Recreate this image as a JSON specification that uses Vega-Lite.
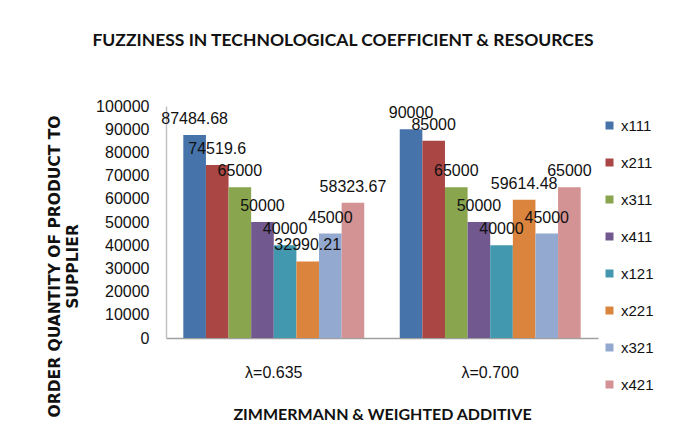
{
  "$schema": "https://vega.github.io/schema/vega-lite/v6.json",
  "autosize": {"type": "none"},
  "width": 432,
  "height": 232,
  "padding": {"left": 166, "top": 106, "right": 75, "bottom": 107},
  "background": "white",
  "title": {
    "text": "FUZZINESS IN TECHNOLOGICAL COEFFICIENT & RESOURCES",
    "font": "Lato",
    "fontSize": 17.5,
    "fontWeight": "bold",
    "color": "#111111",
    "anchor": "middle",
    "dx": -39,
    "offset": 49
  },
  "data": {
    "values": [
      {"lambda": "λ=0.635", "series": "x111", "value": 87484.68},
      {"lambda": "λ=0.635", "series": "x211", "value": 74519.6},
      {"lambda": "λ=0.635", "series": "x311", "value": 65000},
      {"lambda": "λ=0.635", "series": "x411", "value": 50000},
      {"lambda": "λ=0.635", "series": "x121", "value": 40000},
      {"lambda": "λ=0.635", "series": "x221", "value": 32990.21},
      {"lambda": "λ=0.635", "series": "x321", "value": 45000},
      {"lambda": "λ=0.635", "series": "x421", "value": 58323.67},
      {"lambda": "λ=0.700", "series": "x111", "value": 90000},
      {"lambda": "λ=0.700", "series": "x211", "value": 85000},
      {"lambda": "λ=0.700", "series": "x311", "value": 65000},
      {"lambda": "λ=0.700", "series": "x411", "value": 50000},
      {"lambda": "λ=0.700", "series": "x121", "value": 40000},
      {"lambda": "λ=0.700", "series": "x221", "value": 59614.48},
      {"lambda": "λ=0.700", "series": "x321", "value": 45000},
      {"lambda": "λ=0.700", "series": "x421", "value": 65000}
    ]
  },
  "encoding": {
    "x": {
      "field": "lambda",
      "type": "nominal",
      "scale": {"paddingInner": 0.164, "paddingOuter": 0.08},
      "axis": {
        "title": "ZIMMERMANN & WEIGHTED ADDITIVE",
        "titleFont": "Lato",
        "titleFontSize": 16,
        "titleFontWeight": "bold",
        "titleColor": "#111111",
        "titlePadding": 26,
        "labelAngle": 0,
        "labelFont": "Liberation Sans",
        "labelFontSize": 16,
        "labelColor": "#111111",
        "labelPadding": 26,
        "ticks": false,
        "grid": false,
        "domainColor": "#a0a0a0",
        "domainWidth": 1.5
      }
    },
    "xOffset": {
      "field": "series",
      "type": "nominal",
      "sort": ["x111", "x211", "x311", "x411", "x121", "x221", "x321", "x421"],
      "scale": {"paddingInner": 0, "paddingOuter": 0}
    },
    "y": {
      "field": "value",
      "type": "quantitative",
      "scale": {"domain": [0, 100000]},
      "axis": {
        "title": ["ORDER QUANTITY OF PRODUCT TO", "SUPPLIER"],
        "titleFont": "DejaVu Sans",
        "titleFontSize": 15.5,
        "titleFontWeight": "bold",
        "titleColor": "#111111",
        "titleX": -107,
        "titleY": 160,
        "titleBaseline": "alphabetic",
        "titleLineHeight": 18,
        "values": [0, 10000, 20000, 30000, 40000, 50000, 60000, 70000, 80000, 90000, 100000],
        "format": "d",
        "labelFont": "Liberation Sans",
        "labelFontSize": 16,
        "labelColor": "#111111",
        "labelPadding": 17,
        "ticks": false,
        "grid": false,
        "domainColor": "#c0c0c0",
        "domainWidth": 1.5
      }
    }
  },
  "layer": [
    {
      "mark": {"type": "bar"},
      "encoding": {
        "color": {
          "field": "series",
          "type": "nominal",
          "sort": ["x111", "x211", "x311", "x411", "x121", "x221", "x321", "x421"],
          "scale": {
            "domain": ["x111", "x211", "x311", "x411", "x121", "x221", "x321", "x421"],
            "range": ["#4673AA", "#AA4644", "#89A54E", "#71588F", "#4198AF", "#DB843D", "#93A9CF", "#D39293"]
          },
          "legend": {
            "title": null,
            "orient": "none",
            "legendX": 436,
            "legendY": 12,
            "padding": 0,
            "symbolType": "square",
            "symbolSize": 64,
            "symbolStrokeWidth": 0,
            "labelFont": "Liberation Sans",
            "labelFontSize": 15,
            "labelColor": "#111111",
            "labelOffset": 4,
            "rowPadding": 21
          }
        }
      }
    },
    {
      "mark": {
        "type": "text",
        "baseline": "alphabetic",
        "dy": -11,
        "font": "Liberation Sans",
        "fontSize": 16,
        "color": "#111111"
      },
      "encoding": {
        "text": {"field": "value", "type": "nominal"}
      }
    }
  ],
  "config": {
    "view": {"stroke": null}
  }
}
